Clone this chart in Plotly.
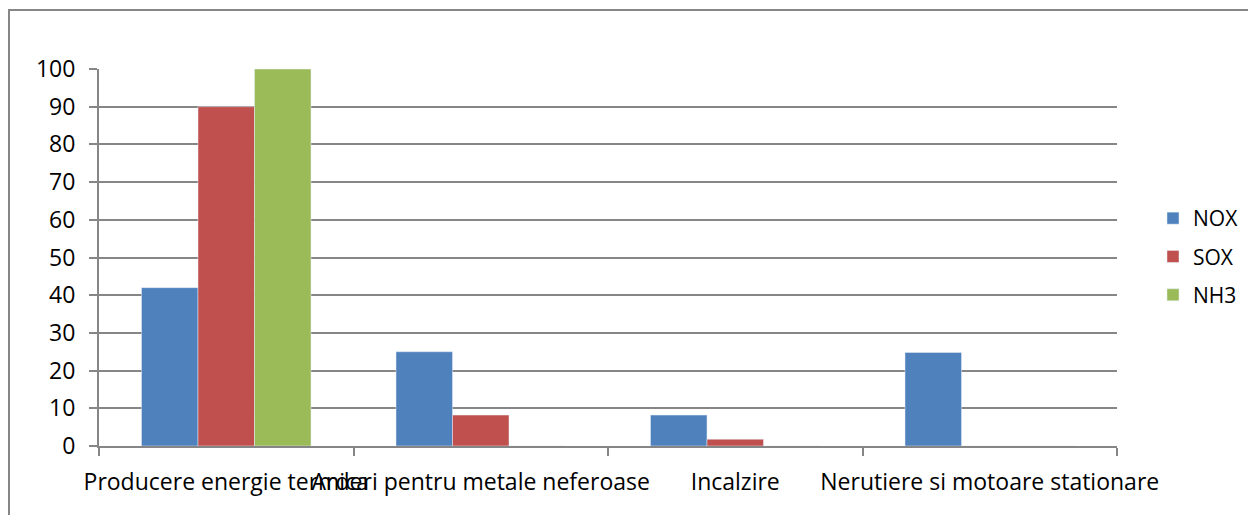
import plotly.graph_objects as go

categorii = ["Producere energie termica", "Arderi pentru metale neferoase",
             "Incalzire", "Nerutiere si motoare stationare"]
nox = [42, 25, 8.2, 24.8]
sox = [90, 8.2, 1.8, 0]
nh3 = [100, 0, 0, 0]

W, H = 1256, 515
# pagina adauga 8px margine, deci coordonatele sunt decalate
L, R, T, B = 91, 1109, 61, 438

def px_x(p):
    return (p - L) / (R - L)

def px_y(p):
    return (B - p) / (B - T)

fnt = dict(family="Open Sans", size=23, color="black")

fig = go.Figure()
fig.add_trace(go.Bar(x=categorii, y=nox, name="NOX", marker_color="#4F81BD", legendgroup="a"))
fig.add_trace(go.Bar(x=categorii, y=sox, name="SOX", marker_color="#C0504D", legendgroup="b"))
fig.add_trace(go.Bar(x=categorii, y=nh3, name="NH3", marker_color="#9BBB59", legendgroup="c"))

fig.update_layout(
    width=W, height=H,
    margin=dict(l=L, r=W - R, t=T, b=H - B, autoexpand=False),
    paper_bgcolor="white", plot_bgcolor="white",
    barmode="group", bargap=0.334, bargroupgap=0,
    font=fnt,
    legend=dict(x=px_x(1145), y=px_y(190), xanchor="left", yanchor="top",
                font=dict(family="Open Sans", size=21), tracegroupgap=8,
                itemwidth=30),
    xaxis=dict(tickangle=0, showline=True, linecolor="#868686", linewidth=2,
               ticks="outside", tickson="boundaries", ticklen=8, tickcolor="#868686",
               tickwidth=2, showgrid=False, tickfont=fnt, automargin=False,
               ticklabelstandoff=14),
    yaxis=dict(range=[0, 100], dtick=10, showline=True, linecolor="#868686", linewidth=2,
               ticks="outside", ticklen=8, tickcolor="#868686", tickwidth=2,
               gridcolor="#868686", gridwidth=2, tickfont=fnt, zeroline=False,
               automargin=False, ticklabelstandoff=9),
)

# chenarul graficului
fig.add_shape(type="rect", xref="paper", yref="paper",
              x0=px_x(1), x1=px_x(1262), y0=px_y(520), y1=px_y(2),
              line=dict(color="#868686", width=2), fillcolor="rgba(0,0,0,0)")

fig.write_html("out.html")
